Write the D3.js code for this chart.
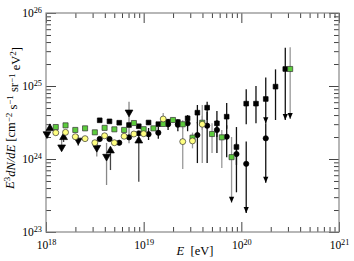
<!DOCTYPE html>
<html>
<head>
<meta charset="UTF-8">
<script src="https://d3js.org/d3.v7.min.js"></script>
<style>
  body { margin: 0; background: #fff; }
  text { font-family: "Liberation Serif", "DejaVu Serif", serif; fill: #000; }
</style>
</head>
<body>
<svg width="354" height="261"></svg>
<script>
// tick exponents
const xTickExp = [18, 19, 20, 21];
const yTickExp = [23, 24, 25, 26];

// black squares
const sqLgE  = [18.55, 18.65, 18.75, 18.85, 18.95, 19.05, 19.15, 19.25, 19.35, 19.45, 19.55, 19.65, 19.75, 19.85, 19.95, 20.05, 20.15, 20.25, 20.35, 20.45];
const sqFlux = [3.39e24, 3.28e24, 3.14e24, 2.92e24, 2.81e24, 3.16e24, 3.00e24, 3.24e24, 3.21e24, 3.61e24, 4.31e24, 5.05e24, 3.08e24, 3.80e24, 1.46e24, 5.73e24, 5.73e24, 6.64e24, 9.8e24, 1.71e25];
const sqLo   = [3.27e24, 3.16e24, 3.02e24, 2.80e24, 2.69e24, 2.95e24, 2.80e24, 3.0e24, 2.95e24, 3.25e24, 3.08e24, 3.42e24, 2.0e24, 2.6e24, 8.3e23, 3.0e24, 3.08e24, 3.08e24, 3.42e24, 3.42e24];
const sqHi   = [3.51e24, 3.40e24, 3.26e24, 3.04e24, 2.93e24, 3.35e24, 3.22e24, 3.5e24, 3.5e24, 4.0e24, 5.49e24, 6.09e24, 4.55e24, 5.85e24, 2.74e24, 9.0e24, 1.0e25, 1.31e25, 1.69e25, 3.35e25];
const sqLim  = [0, 0, 0, 0, 0, 0, 0, 0, 0, 0, 0, 0, 0, 0, 0, 0, 0, 1, 0, 1];

// black circles
const ciLgE  = [18.55, 18.65, 18.75, 18.85, 18.95, 19.05, 19.15, 19.25, 19.35, 19.45, 19.55, 19.65, 19.75, 19.85, 19.95, 20.05, 20.25];
const ciFlux = [1.88e24, 1.88e24, 1.67e24, 1.98e24, 2.25e24, 2.19e24, 2.29e24, 2.99e24, 2.95e24, 3.08e24, 2.13e24, 2.86e24, 2.50e24, 2.02e24, 1.17e24, 8.6e23, 1.92e24];
const ciLo   = [1.80e24, 1.80e24, 1.60e24, 1.90e24, 2.16e24, 1.82e24, 1.90e24, 2.5e24, 2.4e24, 2.4e24, 8.8e23, 8.8e23, 1.21e24, 1.06e24, 3.5e23, 1.82e23, 4.73e23];
const ciHi   = [1.96e24, 1.96e24, 1.74e24, 2.06e24, 2.34e24, 2.66e24, 2.75e24, 3.5e24, 3.4e24, 3.9e24, 3.2e24, 4.4e24, 3.42e24, 2.9e24, 1.66e24, 1.73e24, 3.08e24];
const ciLim  = [0, 0, 0, 0, 0, 0, 0, 0, 0, 0, 0, 0, 0, 0, 0, 1, 1];

// green squares
const grLgE  = [18.10, 18.20, 18.30, 18.40, 18.50, 18.60, 18.70, 18.80, 18.90, 19.00, 19.10, 19.20, 19.30, 19.40, 19.50, 19.60, 19.70, 19.80, 19.90, 20.50];
const grFlux = [2.74e24, 2.89e24, 2.50e24, 2.63e24, 2.32e24, 2.67e24, 2.55e24, 2.50e24, 3.11e24, 2.56e24, 2.63e24, 3.02e24, 3.42e24, 2.99e24, 1.96e24, 3.14e24, 2.20e24, 1.98e24, 1.06e24, 1.71e25];
const grLo   = [2.64e24, 2.79e24, 2.41e24, 2.53e24, 2.23e24, 2.56e24, 2.44e24, 2.38e24, 2.96e24, 2.42e24, 2.45e24, 2.80e24, 3.15e24, 2.6e24, 1.6e24, 2.5e24, 1.21e24, 7.5e23, 2.52e23, 3.53e24];
const grHi   = [2.84e24, 2.99e24, 2.59e24, 2.73e24, 2.41e24, 2.78e24, 2.66e24, 2.62e24, 3.26e24, 2.70e24, 2.81e24, 3.24e24, 3.69e24, 3.4e24, 2.3e24, 3.9e24, 3.1e24, 2.5e24, 2.0e24, 3.4e25];
const grLim  = [0, 0, 0, 0, 0, 0, 0, 0, 0, 0, 0, 0, 0, 0, 0, 0, 0, 0, 1, 1];

// yellow circles
const yeLgE  = [18.10, 18.20, 18.30, 18.40, 18.50, 18.60, 18.70, 18.80, 18.90, 19.00, 19.20, 19.40, 19.50, 19.60];
const yeFlux = [2.29e24, 2.32e24, 2.02e24, 1.90e24, 1.67e24, 2.08e24, 1.67e24, 2.05e24, 2.20e24, 2.22e24, 3.53e24, 1.73e24, 1.77e24, 2.99e24];
const yeLo   = [2.21e24, 2.24e24, 1.94e24, 1.82e24, 1.59e24, 1.98e24, 1.58e24, 1.93e24, 2.06e24, 2.07e24, 2.92e24, 7.3e23, 1.4e24, 8.8e23];
const yeHi   = [2.37e24, 2.40e24, 2.10e24, 1.98e24, 1.75e24, 2.18e24, 1.76e24, 2.17e24, 2.34e24, 2.37e24, 4.27e24, 2.66e24, 2.2e24, 5.5e24];

// black triangles (up / down)
const tuLgE  = [18.04, 18.18, 18.66, 18.95];
const tuFlux = [2.63e24, 1.98e24, 1.30e24, 1.78e24];
const tuLo   = [2.55e24, 1.71e24, 7.06e23, 4.89e23];
const tuHi   = [2.72e24, 2.05e24, 1.34e24, 1.84e24];

const tdLgE  = [18.01, 18.16, 18.33, 18.52, 18.62, 18.85];
const tdFlux = [2.20e24, 1.45e24, 1.80e24, 1.43e24, 1.08e24, 4.36e24];
const tdLo   = [2.13e24, 1.40e24, 1.51e24, 1.08e24, 4.4e23, 1.64e24];
const tdHi   = [2.28e24, 1.94e24, 2.13e24, 1.82e24, 1.66e24, 6.1e24];

const svg = d3.select("svg");
const L = 46, R = 339, T = 13, B = 232;

const x = d3.scaleLog().domain([1e18, 1e21]).range([L, R]);
const y = d3.scaleLog().domain([1e23, 1e26]).range([B, T]);

const xMajor = xTickExp.map(e => Math.pow(10, e));
const yMajor = yTickExp.map(e => Math.pow(10, e));
const xMinor = x.ticks().filter(v => !xMajor.some(m => Math.abs(m - v) / m < 1e-6));
const yMinor = y.ticks().filter(v => !yMajor.some(m => Math.abs(m - v) / m < 1e-6));

function pow10(sel) {
    sel.each(function(d) {
        const e = Math.round(Math.log10(d));
        const t = d3.select(this).text(null);
        t.append("tspan").text("10");
        t.append("tspan").attr("dy", "-0.45em").attr("font-size", "0.72em").text(e);
    });
}

function styleAxis(g) {
    g.select(".domain").remove();
    g.selectAll(".tick line").attr("stroke", "#444");
}

// bottom
svg.append("g").attr("transform", `translate(0,${B})`)
    .call(d3.axisBottom(x).tickValues(xMinor).tickSize(-5).tickFormat(""))
    .call(styleAxis);
const gb = svg.append("g").attr("transform", `translate(0,${B})`)
    .call(d3.axisBottom(x).tickValues(xMajor).tickSize(-10).tickPadding(9))
    .call(styleAxis);
gb.selectAll("text").attr("font-size", 11.5).attr("font-family", "Liberation Serif").call(pow10);

// top
svg.append("g").attr("transform", `translate(0,${T})`)
    .call(d3.axisTop(x).tickValues(xMinor).tickSize(-5).tickFormat(""))
    .call(styleAxis);
svg.append("g").attr("transform", `translate(0,${T})`)
    .call(d3.axisTop(x).tickValues(xMajor).tickSize(-10).tickFormat(""))
    .call(styleAxis);

// left
svg.append("g").attr("transform", `translate(${L},0)`)
    .call(d3.axisLeft(y).tickValues(yMinor).tickSize(-5).tickFormat(""))
    .call(styleAxis);
const gl = svg.append("g").attr("transform", `translate(${L},0)`)
    .call(d3.axisLeft(y).tickValues(yMajor).tickSize(-10).tickPadding(4))
    .call(styleAxis);
gl.selectAll("text").attr("font-size", 11.5).attr("font-family", "Liberation Serif").call(pow10);

// right
svg.append("g").attr("transform", `translate(${R},0)`)
    .call(d3.axisRight(y).tickValues(yMinor).tickSize(-5).tickFormat(""))
    .call(styleAxis);
svg.append("g").attr("transform", `translate(${R},0)`)
    .call(d3.axisRight(y).tickValues(yMajor).tickSize(-10).tickFormat(""))
    .call(styleAxis);

// frame
svg.append("rect")
    .attr("x", L).attr("y", T).attr("width", R - L).attr("height", B - T)
    .attr("fill", "none").attr("stroke", "#888").attr("stroke-width", 1.2);

function bars(lgE, lo, hi, color) {
    svg.append("g").selectAll("line")
        .data(d3.range(lgE.length))
        .join("line")
        .attr("x1", i => x(Math.pow(10, lgE[i])))
        .attr("x2", i => x(Math.pow(10, lgE[i])))
        .attr("y1", i => y(hi[i]))
        .attr("y2", i => y(lo[i]))
        .attr("stroke", color)
        .attr("stroke-width", 1.3);
}

function arrows(lgE, lo, lim) {
    svg.append("g").selectAll("path")
        .data(d3.range(lgE.length).filter(i => lim[i]))
        .join("path")
        .attr("d", i => {
            const px = x(Math.pow(10, lgE[i])), py = y(lo[i]);
            return `M${px - 2.6},${py - 6}L${px + 2.6},${py - 6}L${px},${py}Z`;
        })
        .attr("fill", "#000");
}

function markers(lgE, flux, type, fill, stroke, size, rot) {
    svg.append("g").selectAll("path")
        .data(d3.range(lgE.length))
        .join("path")
        .attr("d", d3.symbol().type(type).size(size))
        .attr("transform", i => `translate(${x(Math.pow(10, lgE[i]))},${y(flux[i])}) rotate(${rot || 0})`)
        .attr("fill", fill)
        .attr("stroke", stroke)
        .attr("stroke-width", 0.7);
}

// error bars
bars(grLgE, grLo, grHi, "#999");
bars(yeLgE, yeLo, yeHi, "#999");
bars(tdLgE, tdLo, tdHi, "#888");
bars(tuLgE, tuLo, tuHi, "#444");
bars(ciLgE, ciLo, ciHi, "#111");
bars(sqLgE, sqLo, sqHi, "#111");

arrows(sqLgE, sqLo, sqLim);
arrows(ciLgE, ciLo, ciLim);
arrows(grLgE, grLo, grLim);

// markers
markers(tuLgE, tuFlux, d3.symbolTriangle, "#000", "#000", 26, 0);
markers(tdLgE, tdFlux, d3.symbolTriangle, "#000", "#000", 26, 180);
markers(sqLgE, sqFlux, d3.symbolSquare, "#000", "#000", 22);
markers(ciLgE, ciFlux, d3.symbolCircle, "#000", "#000", 22);
markers(grLgE, grFlux, d3.symbolSquare, "#5ccc3c", "#333", 26);
markers(yeLgE, yeFlux, d3.symbolCircle, "#ffff80", "#333", 28);

// axis titles
const xl = svg.append("text")
    .attr("x", 195).attr("y", 255)
    .attr("text-anchor", "middle")
    .attr("font-size", 12.5);
xl.append("tspan").attr("font-style", "italic").text("E");
xl.append("tspan").text("  [eV]");
xl.attr("xml:space", "preserve");

const yl = svg.append("text")
    .attr("transform", "translate(14,118) rotate(-90)")
    .attr("text-anchor", "middle")
    .attr("font-size", 12.5);
yl.append("tspan").attr("font-style", "italic").text("E");
yl.append("tspan").attr("dy", "-0.4em").attr("font-size", "0.72em").text("3");
yl.append("tspan").attr("dy", "0.4em").attr("font-style", "italic").text("dN/dE");
yl.append("tspan").text(" [cm");
yl.append("tspan").attr("dy", "-0.4em").attr("font-size", "0.72em").text("−2");
yl.append("tspan").attr("dy", "0.4em").text(" s");
yl.append("tspan").attr("dy", "-0.4em").attr("font-size", "0.72em").text("−1");
yl.append("tspan").attr("dy", "0.4em").text(" sr");
yl.append("tspan").attr("dy", "-0.4em").attr("font-size", "0.72em").text("−1");
yl.append("tspan").attr("dy", "0.4em").text(" eV");
yl.append("tspan").attr("dy", "-0.4em").attr("font-size", "0.72em").text("2");
yl.append("tspan").attr("dy", "0.4em").text("]");
</script>
</body>
</html>
